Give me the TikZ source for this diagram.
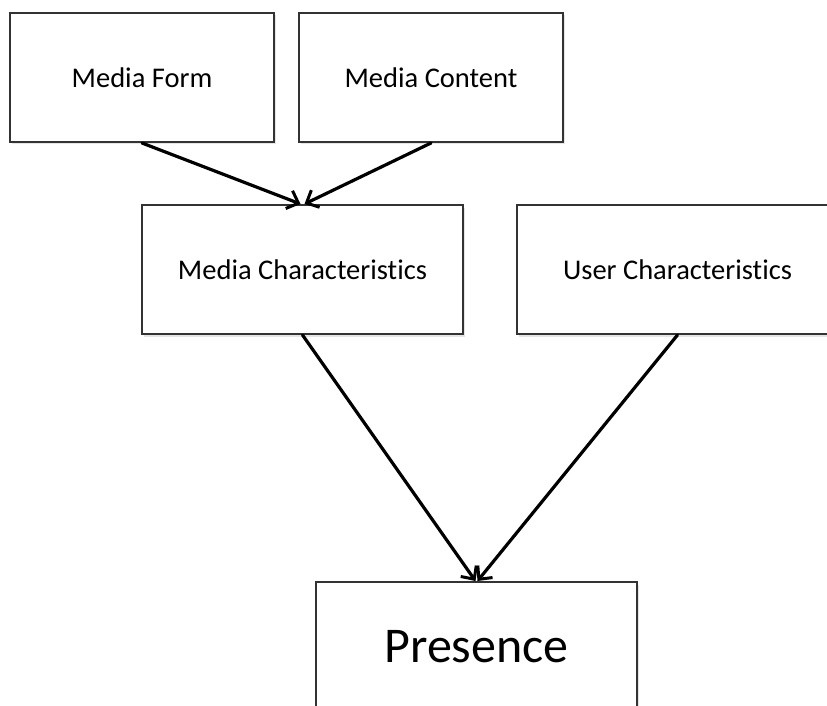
\documentclass[tikz,border=0pt]{standalone}
\usepackage{fontspec}
\setmainfont[Ligatures=NoCommon]{Carlito}
\usetikzlibrary{arrows.meta,shadows}

\begin{document}
\begin{tikzpicture}[x=1pt,y=-1pt,
  box/.style={draw=black!80, line width=2pt, fill=white, inner sep=0pt,
    minimum height=129pt,
    drop shadow={opacity=0.2, shadow xshift=1.5pt, shadow yshift=-2.5pt},
    font=\fontsize{28.5}{34}\selectfont},
  topbox/.style={box, minimum width=264pt},
  midbox/.style={box, minimum width=321pt},
  flow/.style={line width=3.2pt, line cap=round,
    -{Straight Barb[length=10pt,width=19pt,line width=3pt]}}
]
\useasboundingbox (0,0) rectangle (827,706);
\clip (0,0) rectangle (827,706);
\fill[white] (0,0) rectangle (827,706);

\node[topbox] (form)    at (142,77.5)  {Media Form};
\node[topbox] (content) at (431,77.5)  {Media Content};
\node[midbox] (media)   at (302.5,269.5) {Media Characteristics};
\node[midbox] (user)    at (677.5,269.5) {User Characteristics};
\node[midbox, font=\fontsize{50}{60}\selectfont] (presence) at (476.5,646.5) {Presence};

\draw[flow] (form.south)    -- ([xshift=-2pt]media.north);
\draw[flow] (content.south) -- ([xshift=2pt]media.north);
\draw[flow] (media.south)   -- ([xshift=-1pt]presence.north);
\draw[flow] (user.south)    -- ([xshift=1pt]presence.north);
\end{tikzpicture}
\end{document}
